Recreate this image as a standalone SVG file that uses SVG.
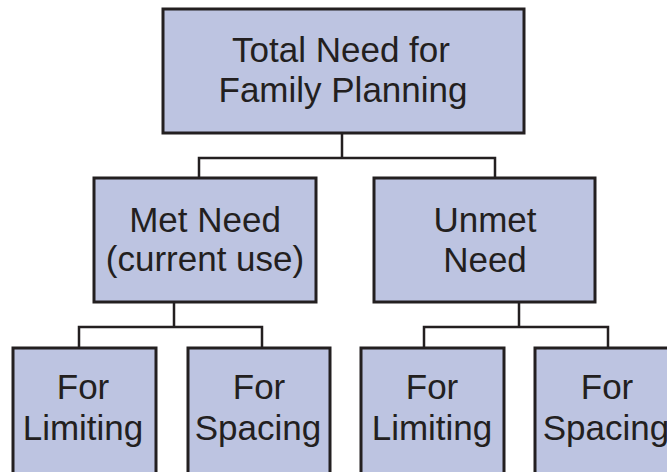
<svg xmlns="http://www.w3.org/2000/svg" width="667" height="472" viewBox="0 0 667 472">
<style>
.box{fill:#bdc4e1;stroke:#231f20;stroke-width:3}
.conn{fill:none;stroke:#231f20;stroke-width:2.5}
text{font-family:"Liberation Sans",Arial,sans-serif;font-size:35px;fill:#231f20;text-anchor:middle}
</style>
<rect width="667" height="472" fill="#ffffff"/>
<g id="connectors">
<path class="conn" d="M342 133V158M199 178V158H495V178"/>
<path class="conn" d="M174 302V327M79 348V327H262V348"/>
<path class="conn" d="M519 302V327M424 348V327H608V348"/>
</g>
<g id="total">
<rect class="box" x="163" y="9" width="361" height="124"/>
<text x="341" y="62">Total Need for</text>
<text x="343" y="102">Family Planning</text>
</g>
<g id="met">
<rect class="box" x="94" y="178" width="222" height="124"/>
<text x="205" y="232">Met Need</text>
<text x="205" y="271">(current use)</text>
</g>
<g id="unmet">
<rect class="box" x="374" y="178" width="221" height="124"/>
<text x="485" y="232">Unmet</text>
<text x="485" y="272">Need</text>
</g>
<g id="met-limiting">
<rect class="box" x="13" y="348" width="143" height="127"/>
<text x="83" y="399">For</text>
<text x="83" y="440">Limiting</text>
</g>
<g id="met-spacing">
<rect class="box" x="188" y="348" width="142" height="127"/>
<text x="259" y="399">For</text>
<text x="258" y="440">Spacing</text>
</g>
<g id="unmet-limiting">
<rect class="box" x="361" y="348" width="143" height="127"/>
<text x="432" y="399">For</text>
<text x="432" y="440">Limiting</text>
</g>
<g id="unmet-spacing">
<rect class="box" x="535" y="348" width="143" height="127"/>
<text x="607" y="399">For</text>
<text x="606" y="440">Spacing</text>
</g>
</svg>
